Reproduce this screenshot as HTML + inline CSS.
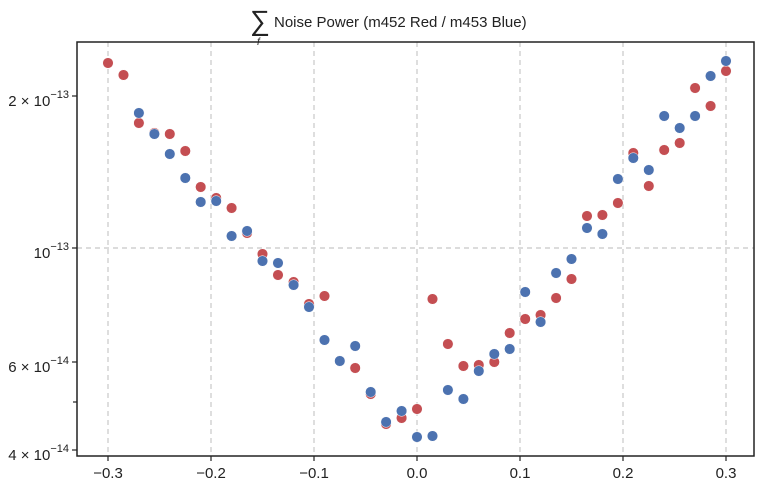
<!DOCTYPE html>
<html><head><meta charset="utf-8"><style>body{margin:0;background:#fff}svg{display:block}</style></head><body>
<svg width="762" height="489" xmlns="http://www.w3.org/2000/svg" font-family="Liberation Sans, sans-serif">
<rect width="762" height="489" fill="#fff"/>
<g stroke="#c8c8c8" stroke-width="1.2" stroke-dasharray="5,4">
<line x1="108" y1="42" x2="108" y2="456"/><line x1="211" y1="42" x2="211" y2="456"/><line x1="314" y1="42" x2="314" y2="456"/><line x1="417" y1="42" x2="417" y2="456"/><line x1="520" y1="42" x2="520" y2="456"/><line x1="623" y1="42" x2="623" y2="456"/><line x1="726" y1="42" x2="726" y2="456"/>
<line x1="77" y1="248" x2="754" y2="248"/>
</g>
<g fill="#c44e52" stroke="#fff" stroke-width="0.5">
<circle cx="108.0" cy="63" r="5.3"/><circle cx="123.5" cy="75" r="5.3"/><circle cx="138.9" cy="123" r="5.3"/><circle cx="154.4" cy="133" r="5.3"/><circle cx="169.8" cy="134" r="5.3"/><circle cx="185.3" cy="151" r="5.3"/><circle cx="200.7" cy="187" r="5.3"/><circle cx="216.2" cy="198" r="5.3"/><circle cx="231.6" cy="208" r="5.3"/><circle cx="247.1" cy="233" r="5.3"/><circle cx="262.5" cy="254" r="5.3"/><circle cx="278.0" cy="275" r="5.3"/><circle cx="293.6" cy="282" r="5.3"/><circle cx="309.0" cy="304" r="5.3"/><circle cx="324.5" cy="296" r="5.3"/><circle cx="339.8" cy="361" r="5.3"/><circle cx="355.2" cy="368" r="5.3"/><circle cx="370.7" cy="394" r="5.3"/><circle cx="386.1" cy="424" r="5.3"/><circle cx="401.6" cy="418" r="5.3"/><circle cx="417" cy="409" r="5.3"/><circle cx="432.5" cy="299" r="5.3"/><circle cx="447.9" cy="344" r="5.3"/><circle cx="463.4" cy="366" r="5.3"/><circle cx="478.8" cy="365" r="5.3"/><circle cx="494.3" cy="362" r="5.3"/><circle cx="509.7" cy="333" r="5.3"/><circle cx="525.2" cy="319" r="5.3"/><circle cx="540.6" cy="315" r="5.3"/><circle cx="556.1" cy="298" r="5.3"/><circle cx="571.5" cy="279" r="5.3"/><circle cx="587.0" cy="216" r="5.3"/><circle cx="602.4" cy="215" r="5.3"/><circle cx="617.9" cy="203" r="5.3"/><circle cx="633.3" cy="153" r="5.3"/><circle cx="648.8" cy="186" r="5.3"/><circle cx="664.2" cy="150" r="5.3"/><circle cx="679.7" cy="143" r="5.3"/><circle cx="695.1" cy="88" r="5.3"/><circle cx="710.6" cy="106" r="5.3"/><circle cx="726" cy="71" r="5.3"/>
</g>
<g fill="#4c72b0" stroke="#fff" stroke-width="0.5">
<circle cx="138.9" cy="113" r="5.3"/><circle cx="154.4" cy="134" r="5.3"/><circle cx="169.8" cy="154" r="5.3"/><circle cx="185.3" cy="178" r="5.3"/><circle cx="200.7" cy="202" r="5.3"/><circle cx="216.2" cy="201" r="5.3"/><circle cx="231.6" cy="236" r="5.3"/><circle cx="247.1" cy="231" r="5.3"/><circle cx="262.5" cy="261" r="5.3"/><circle cx="278.0" cy="263" r="5.3"/><circle cx="293.6" cy="285" r="5.3"/><circle cx="309.0" cy="307" r="5.3"/><circle cx="324.5" cy="340" r="5.3"/><circle cx="339.8" cy="361" r="5.3"/><circle cx="355.2" cy="346" r="5.3"/><circle cx="370.7" cy="392" r="5.3"/><circle cx="386.1" cy="422" r="5.3"/><circle cx="401.6" cy="411" r="5.3"/><circle cx="417" cy="437" r="5.3"/><circle cx="432.5" cy="436" r="5.3"/><circle cx="447.9" cy="390" r="5.3"/><circle cx="463.4" cy="399" r="5.3"/><circle cx="478.8" cy="371" r="5.3"/><circle cx="494.3" cy="354" r="5.3"/><circle cx="509.7" cy="349" r="5.3"/><circle cx="525.2" cy="292" r="5.3"/><circle cx="540.6" cy="322" r="5.3"/><circle cx="556.1" cy="273" r="5.3"/><circle cx="571.5" cy="259" r="5.3"/><circle cx="587.0" cy="228" r="5.3"/><circle cx="602.4" cy="234" r="5.3"/><circle cx="617.9" cy="179" r="5.3"/><circle cx="633.3" cy="158" r="5.3"/><circle cx="648.8" cy="170" r="5.3"/><circle cx="664.2" cy="116" r="5.3"/><circle cx="679.7" cy="128" r="5.3"/><circle cx="695.1" cy="116" r="5.3"/><circle cx="710.6" cy="76" r="5.3"/><circle cx="726" cy="61" r="5.3"/>
</g>
<rect x="77" y="42" width="677" height="414" fill="none" stroke="#222" stroke-width="1.5"/>
<g stroke="#222" stroke-width="1.2">
<line x1="108" y1="456" x2="108" y2="461"/><line x1="211" y1="456" x2="211" y2="461"/><line x1="314" y1="456" x2="314" y2="461"/><line x1="417" y1="456" x2="417" y2="461"/><line x1="520" y1="456" x2="520" y2="461"/><line x1="623" y1="456" x2="623" y2="461"/><line x1="726" y1="456" x2="726" y2="461"/>
<line x1="72" y1="96" x2="77" y2="96"/><line x1="72" y1="248" x2="77" y2="248"/><line x1="72" y1="362" x2="77" y2="362"/><line x1="72" y1="450" x2="77" y2="450"/><line x1="73" y1="402" x2="77" y2="402"/>
</g>
<g font-size="15" fill="#222" text-anchor="middle">
<text x="108" y="478">−0.3</text><text x="211" y="478">−0.2</text><text x="314" y="478">−0.1</text><text x="417" y="478">0.0</text><text x="520" y="478">0.1</text><text x="623" y="478">0.2</text><text x="726" y="478">0.3</text>
</g>
<g font-size="15" fill="#222" text-anchor="end">
<text x="69" y="106">2 × 10<tspan dy="-8" font-size="11">−13</tspan></text>
<text x="69" y="258">10<tspan dy="-8" font-size="11">−13</tspan></text>
<text x="69" y="372">6 × 10<tspan dy="-8" font-size="11">−14</tspan></text>
<text x="69" y="460">4 × 10<tspan dy="-8" font-size="11">−14</tspan></text>
</g>
<text x="250" y="30" font-size="28" fill="#222">∑</text>
<text x="257" y="45" font-size="10" font-style="italic" fill="#222">f</text>
<text x="274" y="27" font-size="15" fill="#222">Noise Power (m452 Red / m453 Blue)</text>
</svg>
</body></html>
